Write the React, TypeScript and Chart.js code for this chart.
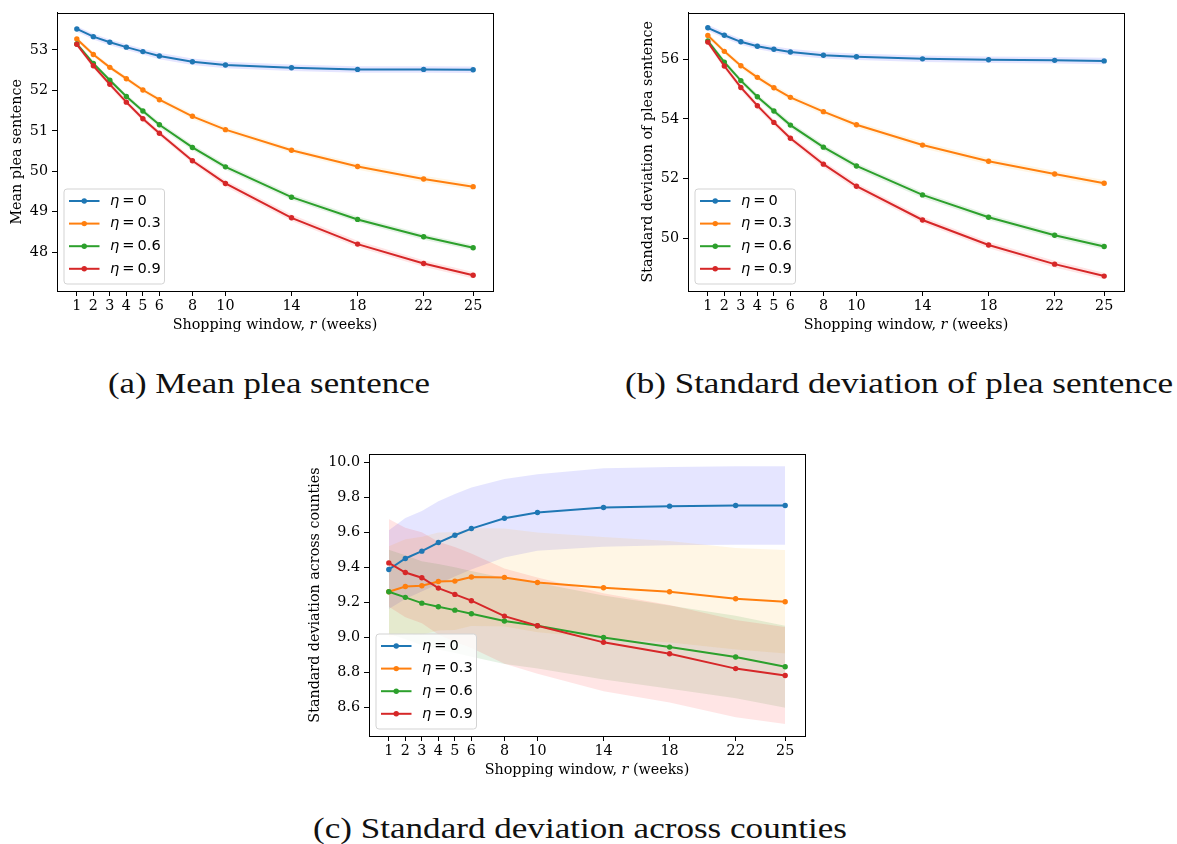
import React, { useEffect, useLayoutEffect, useRef } from "react";
import { Chart, registerables } from "chart.js";

Chart.register(...registerables);

// Shopping window lengths r (weeks)
const shoppingWindows = [1, 2, 3, 4, 5, 6, 8, 10, 14, 18, 22, 25];
const etaValues = ["0", "0.3", "0.6", "0.9"];
const lineColors = ["#1f77b4", "#ff7f0e", "#2ca02c", "#d62728"];
const bandColors = [
  "rgba(0,0,255,0.1)",
  "rgba(255,165,0,0.1)",
  "rgba(0,128,0,0.1)",
  "rgba(255,0,0,0.1)",
];

// (a) Mean plea sentence
const meanEta0 = [53.52, 53.33, 53.19, 53.07, 52.96, 52.85, 52.71, 52.63, 52.56, 52.52, 52.52, 52.51];
const meanEta03 = [53.27, 52.89, 52.57, 52.29, 52.01, 51.77, 51.36, 51.03, 50.52, 50.12, 49.81, 49.62];
const meanEta06 = [53.15, 52.67, 52.25, 51.85, 51.49, 51.15, 50.59, 50.11, 49.36, 48.81, 48.38, 48.11];
const meanEta09 = [53.14, 52.61, 52.15, 51.71, 51.3, 50.94, 50.26, 49.7, 48.85, 48.2, 47.72, 47.43];
const meanSpread0 = [0.07, 0.07, 0.07, 0.07, 0.07, 0.08, 0.08, 0.08, 0.08, 0.08, 0.08, 0.08];
const meanSpread03 = [0.06, 0.06, 0.06, 0.06, 0.07, 0.07, 0.07, 0.07, 0.07, 0.08, 0.08, 0.08];
const meanSpread06 = [0.06, 0.06, 0.06, 0.06, 0.06, 0.07, 0.07, 0.07, 0.07, 0.07, 0.07, 0.07];
const meanSpread09 = [0.06, 0.07, 0.07, 0.07, 0.07, 0.07, 0.07, 0.08, 0.08, 0.08, 0.08, 0.08];
const meanTicks = [48, 49, 50, 51, 52, 53];

// (b) Standard deviation of plea sentence
const sdEta0 = [57.05, 56.8, 56.58, 56.43, 56.33, 56.24, 56.13, 56.08, 56.01, 55.98, 55.96, 55.94];
const sdEta03 = [56.79, 56.26, 55.78, 55.39, 55.04, 54.72, 54.24, 53.8, 53.12, 52.58, 52.15, 51.84];
const sdEta06 = [56.61, 55.9, 55.28, 54.74, 54.26, 53.79, 53.05, 52.42, 51.45, 50.7, 50.1, 49.72];
const sdEta09 = [56.57, 55.77, 55.05, 54.44, 53.88, 53.35, 52.48, 51.74, 50.61, 49.77, 49.13, 48.73];
const sdSpread0 = [0.1, 0.1, 0.1, 0.1, 0.1, 0.11, 0.11, 0.11, 0.11, 0.11, 0.11, 0.11];
const sdSpread03 = [0.09, 0.09, 0.09, 0.1, 0.1, 0.1, 0.1, 0.1, 0.11, 0.11, 0.11, 0.11];
const sdSpread06 = [0.09, 0.09, 0.09, 0.09, 0.1, 0.1, 0.1, 0.1, 0.1, 0.1, 0.1, 0.1];
const sdSpread09 = [0.09, 0.1, 0.1, 0.1, 0.1, 0.1, 0.11, 0.11, 0.11, 0.11, 0.11, 0.11];
const sdTicks = [50, 52, 54, 56];

// (c) Standard deviation across counties
const countyEta0 = [9.389, 9.452, 9.494, 9.543, 9.585, 9.623, 9.682, 9.715, 9.743, 9.751, 9.755, 9.755];
const countyEta03 = [9.262, 9.292, 9.296, 9.321, 9.323, 9.346, 9.344, 9.315, 9.285, 9.262, 9.222, 9.205];
const countyEta06 = [9.262, 9.23, 9.197, 9.176, 9.157, 9.136, 9.095, 9.068, 9.001, 8.946, 8.889, 8.834];
const countyEta09 = [9.427, 9.372, 9.342, 9.283, 9.247, 9.211, 9.123, 9.068, 8.973, 8.908, 8.823, 8.784];
const countySpread0 = [0.225, 0.232, 0.23, 0.236, 0.236, 0.234, 0.224, 0.219, 0.224, 0.224, 0.224, 0.224];
const countySpread03 = [0.26, 0.27, 0.28, 0.28, 0.28, 0.28, 0.28, 0.285, 0.29, 0.29, 0.29, 0.295];
const countySpread06 = [0.24, 0.24, 0.24, 0.245, 0.245, 0.245, 0.246, 0.245, 0.24, 0.238, 0.236, 0.234];
const countySpread09 = [0.25, 0.255, 0.26, 0.265, 0.27, 0.27, 0.272, 0.275, 0.28, 0.278, 0.278, 0.277];
const countyTicks = [8.6, 8.8, 9.0, 9.2, 9.4, 9.6, 9.8, 10.0];

const SERIF = "'DejaVu Serif', serif";
const SANS = "'DejaVu Sans', sans-serif";
const TICK_SIZE = 14.3;
const LEGEND_SIZE = 14.6;

type Panel = {
  left: number;
  top: number;
  width: number;
  height: number;
  yAxisWidth: number;
  xAxisHeight: number;
  padTop: number;
  padRight: number;
  series: number[][];
  spreads: number[][];
  yMin: number;
  yMax: number;
  yTicks: number[];
  yDecimals: number;
  yTitle: string;
  yTitleGap: number;
};

const panels: Panel[] = [
  {
    left: 0, top: 0, width: 510, height: 345,
    yAxisWidth: 57, xAxisHeight: 54, padTop: 8, padRight: 17,
    series: [meanEta0, meanEta03, meanEta06, meanEta09],
    spreads: [meanSpread0, meanSpread03, meanSpread06, meanSpread09],
    yMin: 47.04, yMax: 53.925, yTicks: meanTicks, yDecimals: 0,
    yTitle: "Mean plea sentence", yTitleGap: 40,
  },
  {
    left: 631, top: 0, width: 546, height: 345,
    yAxisWidth: 57, xAxisHeight: 54, padTop: 8, padRight: 53,
    series: [sdEta0, sdEta03, sdEta06, sdEta09],
    spreads: [sdSpread0, sdSpread03, sdSpread06, sdSpread09],
    yMin: 48.23, yMax: 57.56, yTicks: sdTicks, yDecimals: 0,
    yTitle: "Standard deviation of plea sentence", yTitleGap: 40,
  },
  {
    left: 290, top: 440, width: 530, height: 345,
    yAxisWidth: 79, xAxisHeight: 49, padTop: 14, padRight: 15,
    series: [countyEta0, countyEta03, countyEta06, countyEta09],
    spreads: [countySpread0, countySpread03, countySpread06, countySpread09],
    yMin: 8.438, yMax: 10.049, yTicks: countyTicks, yDecimals: 1,
    yTitle: "Standard deviation across counties", yTitleGap: 54,
  },
];

function decorPlugin(panel: Panel) {
  return {
    id: "panelDecor",
    afterDraw(chart: any) {
      const ctx: CanvasRenderingContext2D = chart.ctx;
      const { left, right, top, bottom } = chart.chartArea;
      ctx.save();

      // axes frame
      ctx.strokeStyle = "#000";
      ctx.lineWidth = 1;
      ctx.strokeRect(Math.round(left) + 0.5, Math.round(top) + 0.5, Math.round(right - left), Math.round(bottom - top));

      // x-axis title with italic r
      ctx.fillStyle = "#000";
      ctx.textBaseline = "middle";
      ctx.textAlign = "left";
      const parts = [
        { t: "Shopping window, ", f: `${TICK_SIZE}px ${SERIF}` },
        { t: "r", f: `italic ${TICK_SIZE}px ${SERIF}` },
        { t: " (weeks)", f: `${TICK_SIZE}px ${SERIF}` },
      ];
      let total = 0;
      for (const p of parts) {
        ctx.font = p.f;
        total += ctx.measureText(p.t).width;
      }
      let x = (left + right) / 2 - total / 2;
      const ty = bottom + 34.5;
      for (const p of parts) {
        ctx.font = p.f;
        ctx.fillText(p.t, x, ty);
        x += ctx.measureText(p.t).width;
      }

      // y-axis title
      ctx.save();
      ctx.translate(left - panel.yTitleGap, (top + bottom) / 2);
      ctx.rotate(-Math.PI / 2);
      ctx.textAlign = "center";
      ctx.font = `${TICK_SIZE}px ${SERIF}`;
      ctx.fillText(panel.yTitle, 0, 0);
      ctx.restore();

      // legend
      const bw = 100.5;
      const bh = 95;
      const bx = left + 7;
      const by = bottom - 7 - bh;
      const r = 3;
      ctx.beginPath();
      ctx.moveTo(bx + r, by);
      ctx.lineTo(bx + bw - r, by);
      ctx.arcTo(bx + bw, by, bx + bw, by + r, r);
      ctx.lineTo(bx + bw, by + bh - r);
      ctx.arcTo(bx + bw, by + bh, bx + bw - r, by + bh, r);
      ctx.lineTo(bx + r, by + bh);
      ctx.arcTo(bx, by + bh, bx, by + bh - r, r);
      ctx.lineTo(bx, by + r);
      ctx.arcTo(bx, by, bx + r, by, r);
      ctx.closePath();
      ctx.fillStyle = "rgba(255,255,255,0.8)";
      ctx.fill();
      ctx.strokeStyle = "#d3d3d3";
      ctx.lineWidth = 1;
      ctx.stroke();

      etaValues.forEach((eta, i) => {
        const cy = by + 12 + i * 22.6;
        ctx.strokeStyle = lineColors[i];
        ctx.lineWidth = 2;
        ctx.beginPath();
        ctx.moveTo(bx + 5, cy);
        ctx.lineTo(bx + 35.5, cy);
        ctx.stroke();
        ctx.fillStyle = lineColors[i];
        ctx.beginPath();
        ctx.arc(bx + 20.25, cy, 2.7, 0, Math.PI * 2);
        ctx.fill();

        ctx.fillStyle = "#000";
        ctx.textAlign = "left";
        let tx = bx + 46;
        ctx.font = `italic ${LEGEND_SIZE}px ${SANS}`;
        ctx.fillText("η", tx, cy);
        tx += ctx.measureText("η").width + 3;
        ctx.font = `${LEGEND_SIZE}px ${SANS}`;
        ctx.fillText("=", tx, cy);
        tx += ctx.measureText("=").width + 3;
        ctx.fillText(eta, tx, cy);
      });

      ctx.restore();
    },
  };
}

function buildConfig(panel: Panel): any {
  const datasets: any[] = [];
  panel.series.forEach((values, i) => {
    const spread = panel.spreads[i];
    datasets.push({
      label: `upper ${etaValues[i]}`,
      data: shoppingWindows.map((r, k) => ({ x: r, y: values[k] + spread[k] })),
      borderWidth: 0,
      borderColor: "rgba(0,0,0,0)",
      pointRadius: 0,
      fill: false,
      order: 20 - i,
    });
    datasets.push({
      label: `lower ${etaValues[i]}`,
      data: shoppingWindows.map((r, k) => ({ x: r, y: values[k] - spread[k] })),
      borderWidth: 0,
      borderColor: "rgba(0,0,0,0)",
      backgroundColor: bandColors[i],
      pointRadius: 0,
      fill: "-1",
      order: 20 - i,
    });
  });
  panel.series.forEach((values, i) => {
    datasets.push({
      label: `η = ${etaValues[i]}`,
      data: shoppingWindows.map((r, k) => ({ x: r, y: values[k] })),
      borderColor: lineColors[i],
      backgroundColor: lineColors[i],
      borderWidth: 2,
      pointRadius: 2.7,
      pointBorderWidth: 0,
      pointBackgroundColor: lineColors[i],
      fill: false,
      tension: 0,
      order: 4 - i,
    });
  });

  const tickFont = { family: SERIF, size: TICK_SIZE };

  return {
    type: "line",
    data: { datasets },
    options: {
      responsive: false,
      animation: false,
      events: [],
      layout: {
        autoPadding: false,
        padding: { top: panel.padTop, right: panel.padRight, left: 0, bottom: 0 },
      },
      plugins: {
        legend: { display: false },
        tooltip: { enabled: false },
        title: { display: false },
      },
      scales: {
        x: {
          type: "linear",
          min: -0.2,
          max: 26.2,
          afterBuildTicks: (s: any) => {
            s.ticks = shoppingWindows.map((v) => ({ value: v }));
          },
          afterFit: (s: any) => {
            s.height = panel.xAxisHeight;
          },
          ticks: {
            autoSkip: false,
            maxRotation: 0,
            minRotation: 0,
            padding: 1.5,
            color: "#000",
            font: tickFont,
            callback: (v: number) => String(v),
          },
          grid: { display: true, drawOnChartArea: false, drawTicks: true, tickLength: 5, color: "#000", lineWidth: 1 },
          border: { display: true, color: "#000", width: 1 },
        },
        y: {
          type: "linear",
          min: panel.yMin,
          max: panel.yMax,
          afterBuildTicks: (s: any) => {
            s.ticks = panel.yTicks.map((v) => ({ value: v }));
          },
          afterFit: (s: any) => {
            s.width = panel.yAxisWidth;
          },
          ticks: {
            padding: 4,
            color: "#000",
            font: tickFont,
            callback: (v: number) => Number(v).toFixed(panel.yDecimals),
          },
          grid: { display: true, drawOnChartArea: false, drawTicks: true, tickLength: 5, color: "#000", lineWidth: 1 },
          border: { display: true, color: "#000", width: 1 },
        },
      },
    },
    plugins: [decorPlugin(panel)],
  };
}

function PanelChart({ panel }: { panel: Panel }) {
  const ref = useRef<HTMLCanvasElement>(null);
  useEffect(() => {
    if (!ref.current) return;
    const chart = new Chart(ref.current, buildConfig(panel));
    return () => chart.destroy();
  }, [panel]);
  return (
    <div style={{ position: "absolute", left: panel.left, top: panel.top, width: panel.width, height: panel.height }}>
      <canvas ref={ref} width={panel.width} height={panel.height} />
    </div>
  );
}

const captions = [
  { text: "(a) Mean plea sentence", cx: 269, cy: 383, width: 322 },
  { text: "(b) Standard deviation of plea sentence", cx: 899, cy: 383, width: 548 },
  { text: "(c) Standard deviation across counties", cx: 580, cy: 828, width: 534 },
];

function Caption({ text, cx, cy, width }: { text: string; cx: number; cy: number; width: number }) {
  const ref = useRef<HTMLSpanElement>(null);
  useLayoutEffect(() => {
    const el = ref.current;
    if (!el) return;
    el.style.transform = "none";
    const w = el.getBoundingClientRect().width;
    el.style.transform = `translate(-50%, -50%) scaleX(${w > 0 ? width / w : 1})`;
  }, [text, width]);
  return (
    <span
      ref={ref}
      style={{
        position: "absolute",
        left: cx,
        top: cy,
        whiteSpace: "nowrap",
        fontFamily: "'Liberation Serif', 'Times New Roman', serif",
        fontSize: 30,
        lineHeight: "30px",
        color: "#111",
        transformOrigin: "center center",
      }}
    >
      {text}
    </span>
  );
}

export default function App() {
  return (
    <div style={{ position: "absolute", left: 0, top: 0, width: 1177, height: 844, background: "#fff" }}>
      {panels.map((p, i) => (
        <PanelChart key={i} panel={p} />
      ))}
      {captions.map((c, i) => (
        <Caption key={i} {...c} />
      ))}
    </div>
  );
}
